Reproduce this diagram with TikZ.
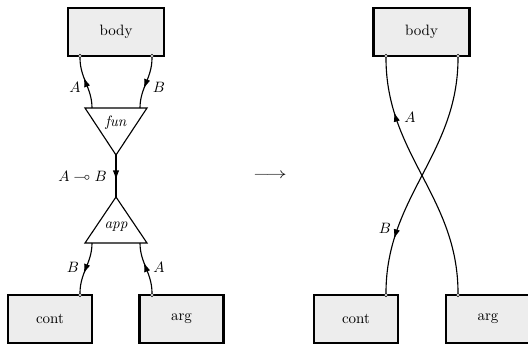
\documentclass[tikz,border=0pt]{standalone}
\usepackage{amsmath}
\usepackage{amssymb}
\usepackage{tikz}
\usetikzlibrary{arrows.meta}
\usetikzlibrary{decorations.markings}

\definecolor{boxgray}{gray}{0.93}
\tikzset{
  term/.style={draw, line width=1.5pt, fill=boxgray, minimum width=#1, minimum height=32pt, inner sep=0pt},
  port/.style={circle, draw, fill=white, inner sep=0pt, minimum size=2.4pt},
  wire/.style={line width=0.75pt},
  midarrow/.style={postaction={decorate}, decoration={markings, mark=at position #1 with {\arrow{Latex[length=6.5pt,width=4.2pt]}}}},
}

\begin{document}
\begin{tikzpicture}[x=2pt/3, y=-2pt/3]
\useasboundingbox (0,0) rectangle (528,345);

% before
\node [term=64pt] (body) at (116,32) {body};
\node [term=56pt] (cont) at (50,319) {cont};
\node [term=56pt] (arg) at (181.5,319) {arg};
\node [port] (bodyA) at (80,56) {};
\node [port] (bodyB) at (152,56) {};
\node [port] (contB) at (80,295) {};
\node [port] (argA) at (152,295) {};

\draw [wire] (85,108) -- (147,108) -- (116,155) -- cycle;
\draw [wire] (85,243) -- (147,243) -- (116,197) -- cycle;
\coordinate (funA) at (92,108);
\coordinate (funB) at (140,108);
\coordinate (funout) at (116,155);
\coordinate (appin) at (116,197);
\coordinate (appB) at (92,243);
\coordinate (appA) at (140,243);
\node (funlbl) at (116,123) {\textit{fun}};
\node (applbl) at (116,227) {\textit{app}};

\draw [wire] [midarrow=0.62] (funA) to[out=90,in=-90] (bodyA);
\draw [wire] [midarrow=0.62] (bodyB) to[out=-90,in=90] (funB);
\draw [wire] [midarrow=0.6] (funout) -- (appin);
\draw [wire] [midarrow=0.62] (appB) to[out=-90,in=90] (contB);
\draw [wire] [midarrow=0.62] (argA) to[out=90,in=-90] (appA);

\node (labA1) at (75,87) {$A$};
\node (labB1) at (159,87) {$B$};
\node [anchor=east] (labAB) at (112,176) {$A \multimap B$};
\node (labB2) at (73,267) {$B$};
\node (labA2) at (159,267) {$A$};

\node (rewrite) at (270,176) {\scalebox{1.4}[1]{$\longrightarrow$}};

% after
\node [term=64pt] (body2) at (421.5,32) {body};
\node [term=56pt] (cont2) at (356,319) {cont};
\node [term=56pt] (arg2) at (488,319) {arg};
\node [port] (bodyA2) at (386,56) {};
\node [port] (bodyB2) at (458,56) {};
\node [port] (contB2) at (386,295) {};
\node [port] (argA2) at (458,295) {};

\draw [wire] [midarrow=0.78] (argA2) to[out=90,in=-90] (bodyA2);
\draw [wire] [midarrow=0.78] (bodyB2) to[out=-90,in=90] (contB2);
\node (labA3) at (410,117) {$A$};
\node (labB3) at (385,228) {$B$};
\end{tikzpicture}
\end{document}
